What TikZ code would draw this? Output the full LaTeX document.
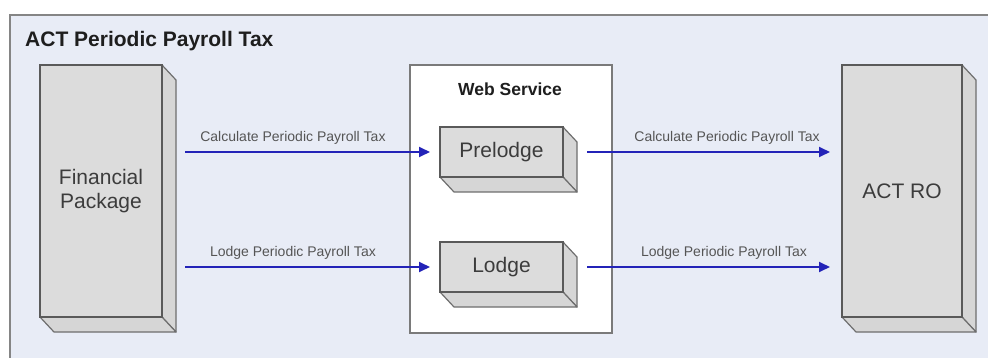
\documentclass[tikz,border=0pt]{standalone}
\usepackage{fontspec}
\setmainfont{Liberation Sans}
\usetikzlibrary{arrows.meta,backgrounds,calc}
\definecolor{framebg}{HTML}{E8ECF6}
\definecolor{frameline}{HTML}{858585}
\definecolor{boxfill}{HTML}{DCDCDC}
\definecolor{sidefill}{HTML}{D6D6D6}
\definecolor{boxline}{HTML}{5A5A5A}
\definecolor{sideline}{HTML}{6E6E6E}
\definecolor{webline}{HTML}{7A7A7A}
\definecolor{flowblue}{HTML}{2323B8}
\definecolor{txt}{HTML}{3C3C3C}
\definecolor{lbltxt}{HTML}{555555}
\definecolor{titletxt}{HTML}{1E1E1E}
\tikzset{
  front/.style={draw=boxline, line width=1.8pt, fill=boxfill, inner sep=0pt, outer sep=0pt,
    text=txt, font=\fontsize{21}{24}\selectfont, align=center},
  side/.style={draw=sideline, line width=1.2pt, fill=sidefill, line join=round},
  webbox/.style={draw=webline, line width=1.5pt, fill=white, inner sep=0pt, outer sep=0pt},
  flow/.style={draw=flowblue, line width=1.8pt, -{Triangle[length=11pt,width=10pt]}},
  flowlbl/.style={anchor=base, inner sep=0pt, text=lbltxt, font=\fontsize{14}{16}\selectfont, yshift=10.5pt},
  titlelbl/.style={anchor=base west, inner sep=0pt, text=titletxt, font=\bfseries\fontsize{21}{24}\selectfont},
  wslbl/.style={inner sep=0pt, text=titletxt, font=\bfseries\fontsize{17.5}{20}\selectfont},
}
\newcommand\extrudebox[1]{%
  \path[side] (#1.north east) -- ++(14,15) -- ($(#1.south east)+(14,15)$) -- (#1.south east) -- cycle;
  \path[side] (#1.south west) -- ($(#1.south west)+(14,15)$) -- ($(#1.south east)+(14,15)$) -- (#1.south east) -- cycle;
}
\begin{document}
\begin{tikzpicture}[x=1pt,y=-1pt]
\useasboundingbox (0,0) rectangle (988,358);
% front faces
\node[front, minimum width=122pt, minimum height=252pt] (fin) at (101,191) {Financial\\Package};
\node[front, minimum width=123pt, minimum height=50pt] (pre) at (501.5,152) {Prelodge};
\node[front, minimum width=123pt, minimum height=50pt] (lod) at (501.5,267) {Lodge};
\node[front, minimum width=120pt, minimum height=252pt] (ro) at (902,191) {ACT RO};
% titles
\node[titlelbl] (title) at (25,47) {ACT Periodic Payroll Tax};
\node[wslbl] (wsl) at (510,89) {Web Service};
\begin{scope}[on background layer]
  \fill[framebg] (10,15) rectangle (988,358);
  \draw[frameline, line width=1.6pt] (10,358) -- (10,15) -- (988,15);
  \node[webbox, minimum width=202pt, minimum height=268pt] (web) at (511,199) {};
  \extrudebox{fin}
  \extrudebox{pre}
  \extrudebox{lod}
  \extrudebox{ro}
\end{scope}
% connectors
\draw[flow, shorten <=23pt, shorten >=10pt] (fin.east |- pre.west) -- (pre.west)
  node[flowlbl, pos=0.471] {Calculate Periodic Payroll Tax};
\draw[flow, shorten <=23pt, shorten >=10pt] (fin.east |- lod.west) -- (lod.west)
  node[flowlbl, pos=0.471] {Lodge Periodic Payroll Tax};
\draw[flow, shorten <=24pt, shorten >=12pt] (pre.east) -- (pre.east -| ro.west)
  node[flowlbl, pos=0.588] {Calculate Periodic Payroll Tax};
\draw[flow, shorten <=24pt, shorten >=12pt] (lod.east) -- (lod.east -| ro.west)
  node[flowlbl, pos=0.577] {Lodge Periodic Payroll Tax};
\end{tikzpicture}
\end{document}
